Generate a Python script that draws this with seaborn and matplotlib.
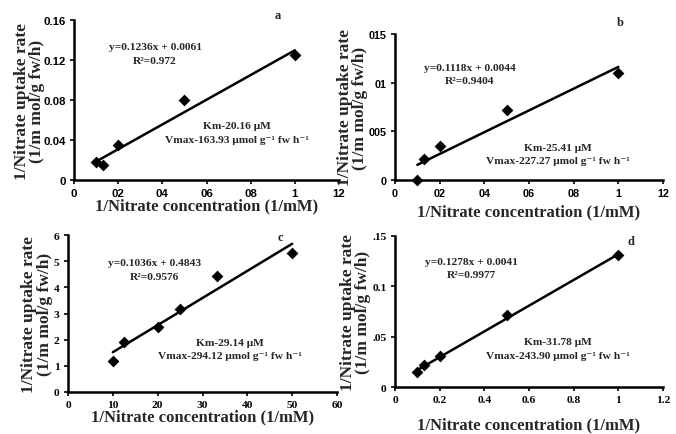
import numpy as np
import pandas as pd
import matplotlib
matplotlib.use('Agg')
import matplotlib.pyplot as plt
import seaborn as sns

# data
a_x = [0.1, 0.13, 0.2, 0.5, 1.0]
a_y = [0.018, 0.015, 0.035, 0.080, 0.125]
b_x = [0.1, 0.13, 0.2, 0.5, 1.0]
b_y = [0.000, 0.022, 0.035, 0.072, 0.110]
c_x = [10, 12.5, 20, 25, 33.3, 50]
c_y = [1.18, 1.90, 2.50, 3.18, 4.45, 5.30]
d_x = [0.1, 0.13, 0.2, 0.5, 1.0]
d_y = [0.015, 0.022, 0.031, 0.072, 0.131]

slopes = [0.1236, 0.1118, 0.1036, 0.1278]
intercepts = [0.0061, 0.0044, 0.4843, 0.0041]
r2_text = ['0.972', '0.9404', '0.9576', '0.9977']
km_text = ['20.16', '25.41', '29.14', '31.78']
vmax_text = ['163.93', '227.27', '294.12', '243.90']
panel_letters = ['a', 'b', 'c', 'd']

a_xticks = ['0', '02', '04', '06', '08', '1', '12']
a_yticks = ['0', '0.04', '0.08', '0.12', '0.16']
b_xticks = ['0', '02', '04', '06', '08', '1', '12']
b_yticks = ['0', '005', '01', '015']
c_xticks = ['0', '10', '20', '30', '40', '50', '60']
c_yticks = ['0', '1', '2', '3', '4', '5', '6']
d_xticks = ['0', '0.2', '0.4', '0.6', '0.8', '1', '1.2']
d_yticks = ['0', '.05', '0.1', '.15']

sns.set_style('ticks')
plt.rcParams['font.family'] = ['Liberation Serif', 'DejaVu Serif']

fig = plt.figure(figsize=(6.76, 4.35), dpi=100)
W, H = 676, 435
boxes = [(74, 339, 21, 181), (395, 663, 35, 181), (68, 337, 236, 393), (395, 663, 237, 388)]
axes = [fig.add_axes([l / W, 1 - b / H, (r - l) / W, (b - t) / H]) for l, r, t, b in boxes]

panels = [
    (a_x, a_y, np.arange(0, 1.21, 0.2), a_xticks, np.arange(0, 0.161, 0.04), a_yticks, 1.2, 0.16, 'Liberation Sans'),
    (b_x, b_y, np.arange(0, 1.21, 0.2), b_xticks, np.arange(0, 0.151, 0.05), b_yticks, 1.2, 0.15, 'Liberation Sans'),
    (c_x, c_y, np.arange(0, 61, 10), c_xticks, np.arange(0, 7, 1), c_yticks, 60, 6, 'Liberation Serif'),
    (d_x, d_y, np.arange(0, 1.21, 0.2), d_xticks, np.arange(0, 0.151, 0.05), d_yticks, 1.2, 0.15, 'Liberation Serif'),
]
tick_size = [8.2, 7.8, 8.2, 8.2]
xlab_pad = [-1, 3.5, -1, 8.5]
ylab_pad = [-1.5, 0.5, 1, 1]
# text anchor positions in axes fraction: equation, Km block, letter
eq_pos = [(0.306, 0.79), (0.28, 0.726), (0.323, 0.78), (0.284, 0.788)]
km_pos = [(0.615, 0.297), (0.608, 0.178), (0.602, 0.274), (0.608, 0.255)]
let_pos = [(0.77, 1.03), (0.84, 1.08), (0.79, 0.99), (0.88, 0.97)]

for i, ax in enumerate(axes):
    xs, ys, xt, xtl, yt, ytl, xmax, ymax, tfont = panels[i]
    df = pd.DataFrame({'x': xs, 'y': ys})
    sns.scatterplot(data=df, x='x', y='y', ax=ax, marker='D', s=36, color='black',
                    edgecolor='black', linewidth=0, zorder=3, clip_on=False)
    fit_x = [xs[0], xs[-1]]
    fit = pd.DataFrame({'x': fit_x, 'y': [slopes[i] * v + intercepts[i] for v in fit_x]})
    sns.lineplot(data=fit, x='x', y='y', ax=ax, color='black', linewidth=1.8)
    ax.set_xlim(0, xmax)
    ax.set_ylim(0, ymax)
    ax.set_xticks(xt)
    ax.set_xticklabels(xtl, fontfamily=tfont, fontweight='bold', fontsize=tick_size[i])
    ax.set_yticks(yt)
    ax.set_yticklabels(ytl, fontfamily=tfont, fontweight='bold', fontsize=tick_size[i])
    ax.tick_params(length=3, width=1.2, pad=3, colors='black')
    sns.despine(ax=ax)
    for s in ['left', 'bottom']:
        ax.spines[s].set_linewidth(1.8)
        ax.spines[s].set_color('black')
    ax.set_xlabel('1/Nitrate concentration (1/mM)', fontsize=12, fontweight='bold', labelpad=xlab_pad[i])
    ax.set_ylabel('1/Nitrate uptake rate\n(1/m mol/g fw/h)', fontsize=12.5, fontweight='bold',
                  labelpad=ylab_pad[i], linespacing=0.92)
    ex, ey = eq_pos[i]
    ax.text(ex, ey, 'y=%sx + %s\nR\u00b2=%s' % (slopes[i], intercepts[i], r2_text[i]),
            transform=ax.transAxes, ha='center', va='center', fontsize=8.2, fontweight='bold',
            linespacing=1.6)
    kx, ky = km_pos[i]
    ax.text(kx, ky, 'Km-%s \u03bcM\nVmax-%s \u03bcmol g\u207b\u00b9 fw h\u207b\u00b9' % (km_text[i], vmax_text[i]),
            transform=ax.transAxes, ha='center', va='center', fontsize=8.2, fontweight='bold',
            linespacing=1.65)
    lx, ly = let_pos[i]
    ax.text(lx, ly, panel_letters[i], transform=ax.transAxes, ha='center', va='center',
            fontsize=9, fontweight='bold')

plt.savefig('out.png', dpi=100)
